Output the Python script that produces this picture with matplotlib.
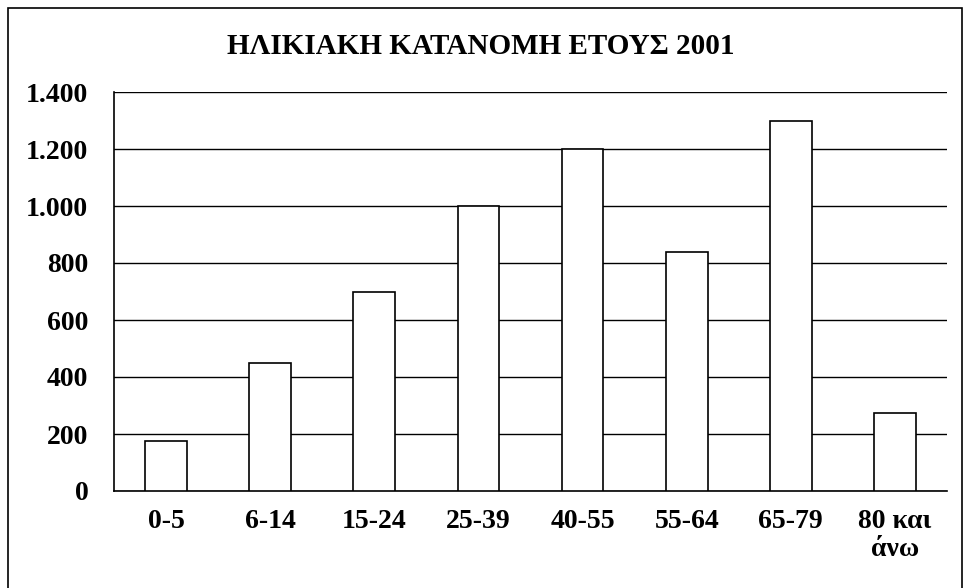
import matplotlib.pyplot as plt
from matplotlib.patches import Rectangle
from matplotlib.ticker import FuncFormatter

# age groups and counts for 2001
categories = ['0-5', '6-14', '15-24', '25-39', '40-55', '55-64', '65-79', '80 και\nάνω']
values = [175, 450, 700, 1000, 1200, 840, 1300, 275]
yticks = [0, 200, 400, 600, 800, 1000, 1200, 1400]

plt.rcParams['font.family'] = ['Liberation Serif', 'DejaVu Serif']
plt.rcParams['font.weight'] = 'bold'

fig = plt.figure(figsize=(9.66, 5.88), dpi=100)
ax = fig.add_axes([114 / 966, 1 - 491 / 588, (947 - 114) / 966, (491 - 92) / 588])

x = range(len(categories))
ax.bar(x, values, width=0.4, color='white', edgecolor='black', linewidth=1.2, zorder=3)

ax.set_xlim(-0.5, len(categories) - 0.5)
ax.set_ylim(0, 1400)
ax.set_yticks(yticks)
# greek style thousands separator
ax.yaxis.set_major_formatter(FuncFormatter(lambda v, p: f'{int(v):,}'.replace(',', '.')))
ax.set_xticks(list(x))
ax.set_xticklabels(categories, linespacing=1.15)
ax.tick_params(axis='both', length=0, labelsize=20)
ax.tick_params(axis='y', pad=18.5)
ax.tick_params(axis='x', pad=13)
for lab in ax.get_xticklabels() + ax.get_yticklabels():
    lab.set_fontweight('bold')

ax.grid(axis='y', color='black', linewidth=1, zorder=0)
ax.spines['top'].set_visible(False)
ax.spines['right'].set_visible(False)
ax.spines['left'].set_linewidth(1.2)
ax.spines['bottom'].set_linewidth(1.2)

fig.text(481 / 966, 1 - 47 / 588, 'ΗΛΙΚΙΑΚΗ ΚΑΤΑΝΟΜΗ ΕΤΟΥΣ 2001', ha='center', va='center',
         fontsize=21, fontweight='bold')

# frame around the chart
fig.patches.append(Rectangle((8 / 966, -0.01), (962 - 8) / 966, 1 - 8 / 588 + 0.01,
                             transform=fig.transFigure, fill=False, edgecolor='black', linewidth=1.2))

fig.savefig('out.png', dpi=100)
